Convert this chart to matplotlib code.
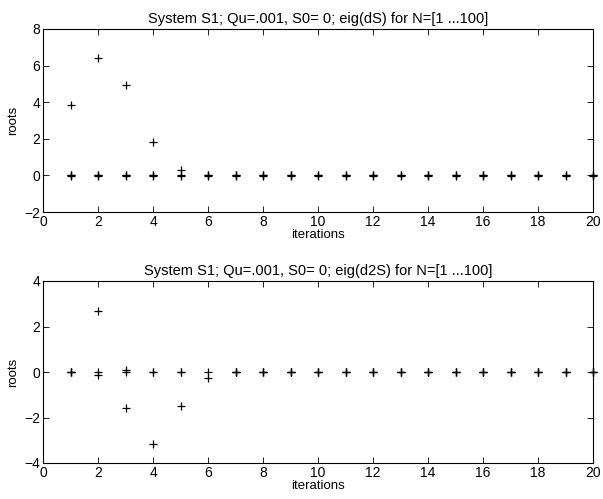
import numpy as np
import matplotlib.pyplot as plt

plt.rcParams['font.family'] = ['Liberation Sans', 'DejaVu Sans']

iterations = list(range(1, 21))

# eigenvalues of dS per iteration (several roots sit on top of each other near zero)
roots_ds = [
    [3.87, 0.0, 0.02, -0.02],
    [6.4, 0.0, 0.02, -0.02],
    [4.95, 0.0, 0.02, -0.02],
    [1.8, 0.0, 0.02, -0.02],
    [0.3, 0.0, -0.02],
] + [[0.0, 0.02, -0.02]] * 15

# eigenvalues of d2S per iteration
roots_d2s = [
    [0.0, 0.015, -0.015],
    [2.7, 0.0, -0.12],
    [0.1, 0.0, -1.57],
    [0.0, 0.015, -3.15],
    [0.0, 0.015, -1.5],
    [0.0, -0.28],
] + [[0.0, 0.015, -0.015]] * 14

titles = [
    'System S1; Qu=.001, S0= 0; eig(dS) for N=[1 ...100]',
    'System S1; Qu=.001, S0= 0; eig(d2S) for N=[1 ...100]',
]
ylims = [(-2, 8), (-4, 4)]
yticks = [[-2, 0, 2, 4, 6, 8], [-4, -2, 0, 2, 4]]

fig = plt.figure(figsize=(6.03, 4.99), dpi=100)
W, H = 603, 499
boxes = [(43, 29, 593, 212), (43, 281, 593, 463)]

for k, roots in enumerate([roots_ds, roots_d2s]):
    x0, y0, x1, y1 = boxes[k]
    ax = fig.add_axes([x0 / W, 1 - y1 / H, (x1 - x0) / W, (y1 - y0) / H])
    xs = [it for it, r in zip(iterations, roots) for _ in r]
    ys = [v for r in roots for v in r]
    ax.plot(xs, ys, '+', color='black', markersize=6, markeredgewidth=0.9,
            clip_on=False)
    ax.set_xlim(0, 20)
    ax.set_ylim(*ylims[k])
    ax.set_xticks(range(0, 21, 2))
    ax.set_yticks(yticks[k])
    ax.tick_params(direction='in', top=True, right=True, length=4,
                   width=0.6, labelsize=10, pad=2)
    for s in ax.spines.values():
        s.set_linewidth(0.8)
    ax.set_title(titles[k], fontsize=10.5, pad=4)
    ax.set_xlabel('iterations', fontsize=9.5, labelpad=0)
    ax.set_ylabel('roots', fontsize=9.5, labelpad=4)

fig.savefig('out.png', dpi=100)
